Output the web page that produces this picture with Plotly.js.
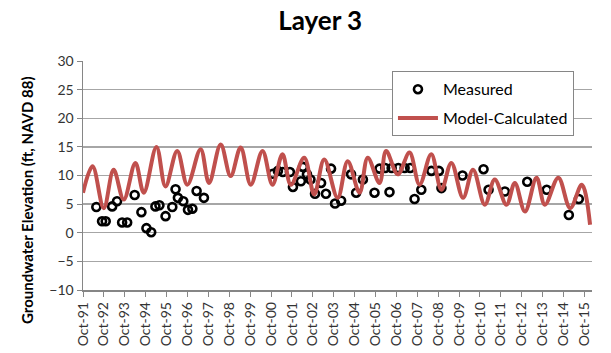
<!DOCTYPE html>
<html>
<head>
<meta charset="utf-8">
<script src="https://cdn.plot.ly/plotly-3.0.1.min.js"></script>
<style>html,body{margin:0;padding:0;background:#fff}#chart{width:611px;height:353px}</style>
</head>
<body>
<div id="chart"></div>
<script>
// Measured groundwater elevation (ft, NAVD 88)
var measuredDates = ["1992-05-21","1992-08-29","1992-11-01","1993-02-22","1993-05-18","1993-08-15","1993-11-11","1994-03-22","1994-07-18","1994-10-14","1995-01-05","1995-03-20","1995-05-29","1995-09-13","1996-01-09","1996-03-06","1996-04-16","1996-07-19","1996-10-09","1996-12-25","1997-03-09","1997-07-15","2000-11-02","2001-01-28","2001-04-25","2001-08-26","2001-10-18","2002-03-06","2002-04-10","2002-06-20","2002-08-20","2002-11-08","2003-02-22","2003-05-18","2003-08-15","2003-10-24","2004-02-07","2004-07-30","2004-10-27","2005-02-22","2005-09-13","2005-12-10","2006-03-18","2006-06-02","2006-07-10","2006-11-03","2007-02-21","2007-05-30","2007-08-14","2007-12-10","2008-06-03","2008-10-13","2008-11-26","2009-11-29","2010-12-02","2011-02-28","2011-12-10","2013-01-04","2013-12-11","2015-01-01","2015-06-24"];
var measuredValues = [4.5,2.0,2.0,4.6,5.5,1.8,1.8,6.6,3.6,0.8,0.1,4.6,4.8,2.9,4.5,7.6,6.1,5.5,4.0,4.2,7.3,6.1,10.3,10.8,10.6,10.6,8.0,9.0,11.5,10.2,9.3,6.8,8.7,6.8,11.2,5.1,5.6,10.2,7.0,9.3,7.0,11.2,11.3,7.1,11.3,11.3,11.3,11.3,5.9,7.5,10.8,10.8,7.8,10.0,11.1,7.5,7.2,8.9,7.5,3.1,5.9];

// Model-calculated (seasonal peaks and troughs)
var modelDates = ["1991-10-01","1992-03-16","1992-09-28","1993-03-19","1993-09-12","1994-04-04","1994-08-28","1995-04-07","1995-09-12","1996-04-04","1996-09-28","1997-05-18","1997-10-12","1998-05-04","1998-10-25","1999-04-18","1999-10-12","2000-05-04","2000-10-25","2001-04-18","2001-09-12","2002-05-04","2002-10-25","2003-04-18","2003-12-09","2004-06-01","2004-12-25","2005-05-18","2005-12-09","2006-04-04","2006-10-25","2007-05-18","2007-11-09","2008-06-01","2008-11-25","2009-05-18","2009-12-09","2010-06-01","2010-12-25","2011-06-16","2012-01-07","2012-06-01","2012-11-25","2013-06-16","2013-11-09","2014-07-01","2015-01-25","2015-08-16","2016-01-07"];
var modelValues = [7.0,11.6,4.3,11.0,5.8,12.2,7.0,15.0,8.1,14.3,8.4,14.6,8.7,15.4,9.9,14.9,8.4,14.3,8.4,13.7,8.4,13.1,6.7,12.8,6.1,12.5,7.0,13.1,8.7,14.3,10.2,14.0,8.4,13.7,7.5,12.2,6.1,11.0,4.9,9.3,4.9,8.7,3.7,9.6,4.9,9.6,4.3,8.4,1.4];

// X-axis tick labels
var tickYears = [1991,1992,1993,1994,1995,1996,1997,1998,1999,2000,2001,2002,2003,2004,2005,2006,2007,2008,2009,2010,2011,2012,2013,2014,2015];
var tickVals = tickYears.map(function(y){return y + "-10-01";});
var tickText = tickYears.map(function(y){return "Oct-" + String(y).slice(2);});

var FONT = "Lato, 'Open Sans', sans-serif";

var traces = [
  {
    x: measuredDates, y: measuredValues, type: "scatter", mode: "markers",
    name: "Measured", legendgroup: "a",
    marker: {symbol: "circle-open", size: 8, color: "#000000", line: {width: 2.6, color: "#000000"}}
  },
  {
    x: modelDates, y: modelValues, type: "scatter", mode: "lines",
    name: "Model-Calculated", legendgroup: "b",
    line: {color: "#C0504D", width: 4, shape: "spline", smoothing: 1}
  }
];

var layout = {
  width: 611, height: 353,
  margin: {l: 83, r: 19, t: 61, b: 63},
  paper_bgcolor: "#ffffff", plot_bgcolor: "#ffffff",
  font: {family: FONT, size: 14, color: "#333333"},
  showlegend: true,
  title: {
    text: "<b>Layer 3</b>", x: 0.524, xref: "container", xanchor: "center",
    y: 0.94, yref: "container", yanchor: "middle",
    font: {family: FONT, size: 26, color: "#000000"}
  },
  xaxis: {
    type: "date", range: ["1991-10-01", "2016-02-10"],
    tickmode: "array", tickvals: tickVals, ticktext: tickText,
    tickangle: -90, ticks: "outside", ticklen: 5, tickcolor: "#868686",
    showline: true, linecolor: "#868686", linewidth: 1.5,
    showgrid: false, zeroline: false,
    tickfont: {family: FONT, size: 14, color: "#333333"}
  },
  yaxis: {
    range: [-10, 30], dtick: 5, tick0: 0,
    ticks: "outside", ticklen: 5, tickcolor: "#868686",
    showline: true, linecolor: "#868686", linewidth: 1.5,
    showgrid: true, gridcolor: "#A6A6A6", gridwidth: 1.3,
    zeroline: false,
    tickfont: {family: FONT, size: 14, color: "#333333"}
  },
  legend: {
    x: 0.607, y: 0.955, xanchor: "left", yanchor: "top",
    bgcolor: "#ffffff", bordercolor: "#868686", borderwidth: 1,
    font: {family: FONT, size: 16, color: "#000000"},
    traceorder: "grouped", tracegroupgap: 5, itemwidth: 40
  },
  annotations: [{
    text: "<b>Groundwater Elevation (ft, NAVD 88)</b>",
    xref: "paper", yref: "paper", x: -0.11, y: 0.393,
    xanchor: "center", yanchor: "middle", textangle: -90, showarrow: false,
    font: {family: FONT, size: 15, color: "#000000"}
  }]
};

Plotly.newPlot("chart", traces, layout, {displayModeBar: false, staticPlot: true});
</script>
</body>
</html>
